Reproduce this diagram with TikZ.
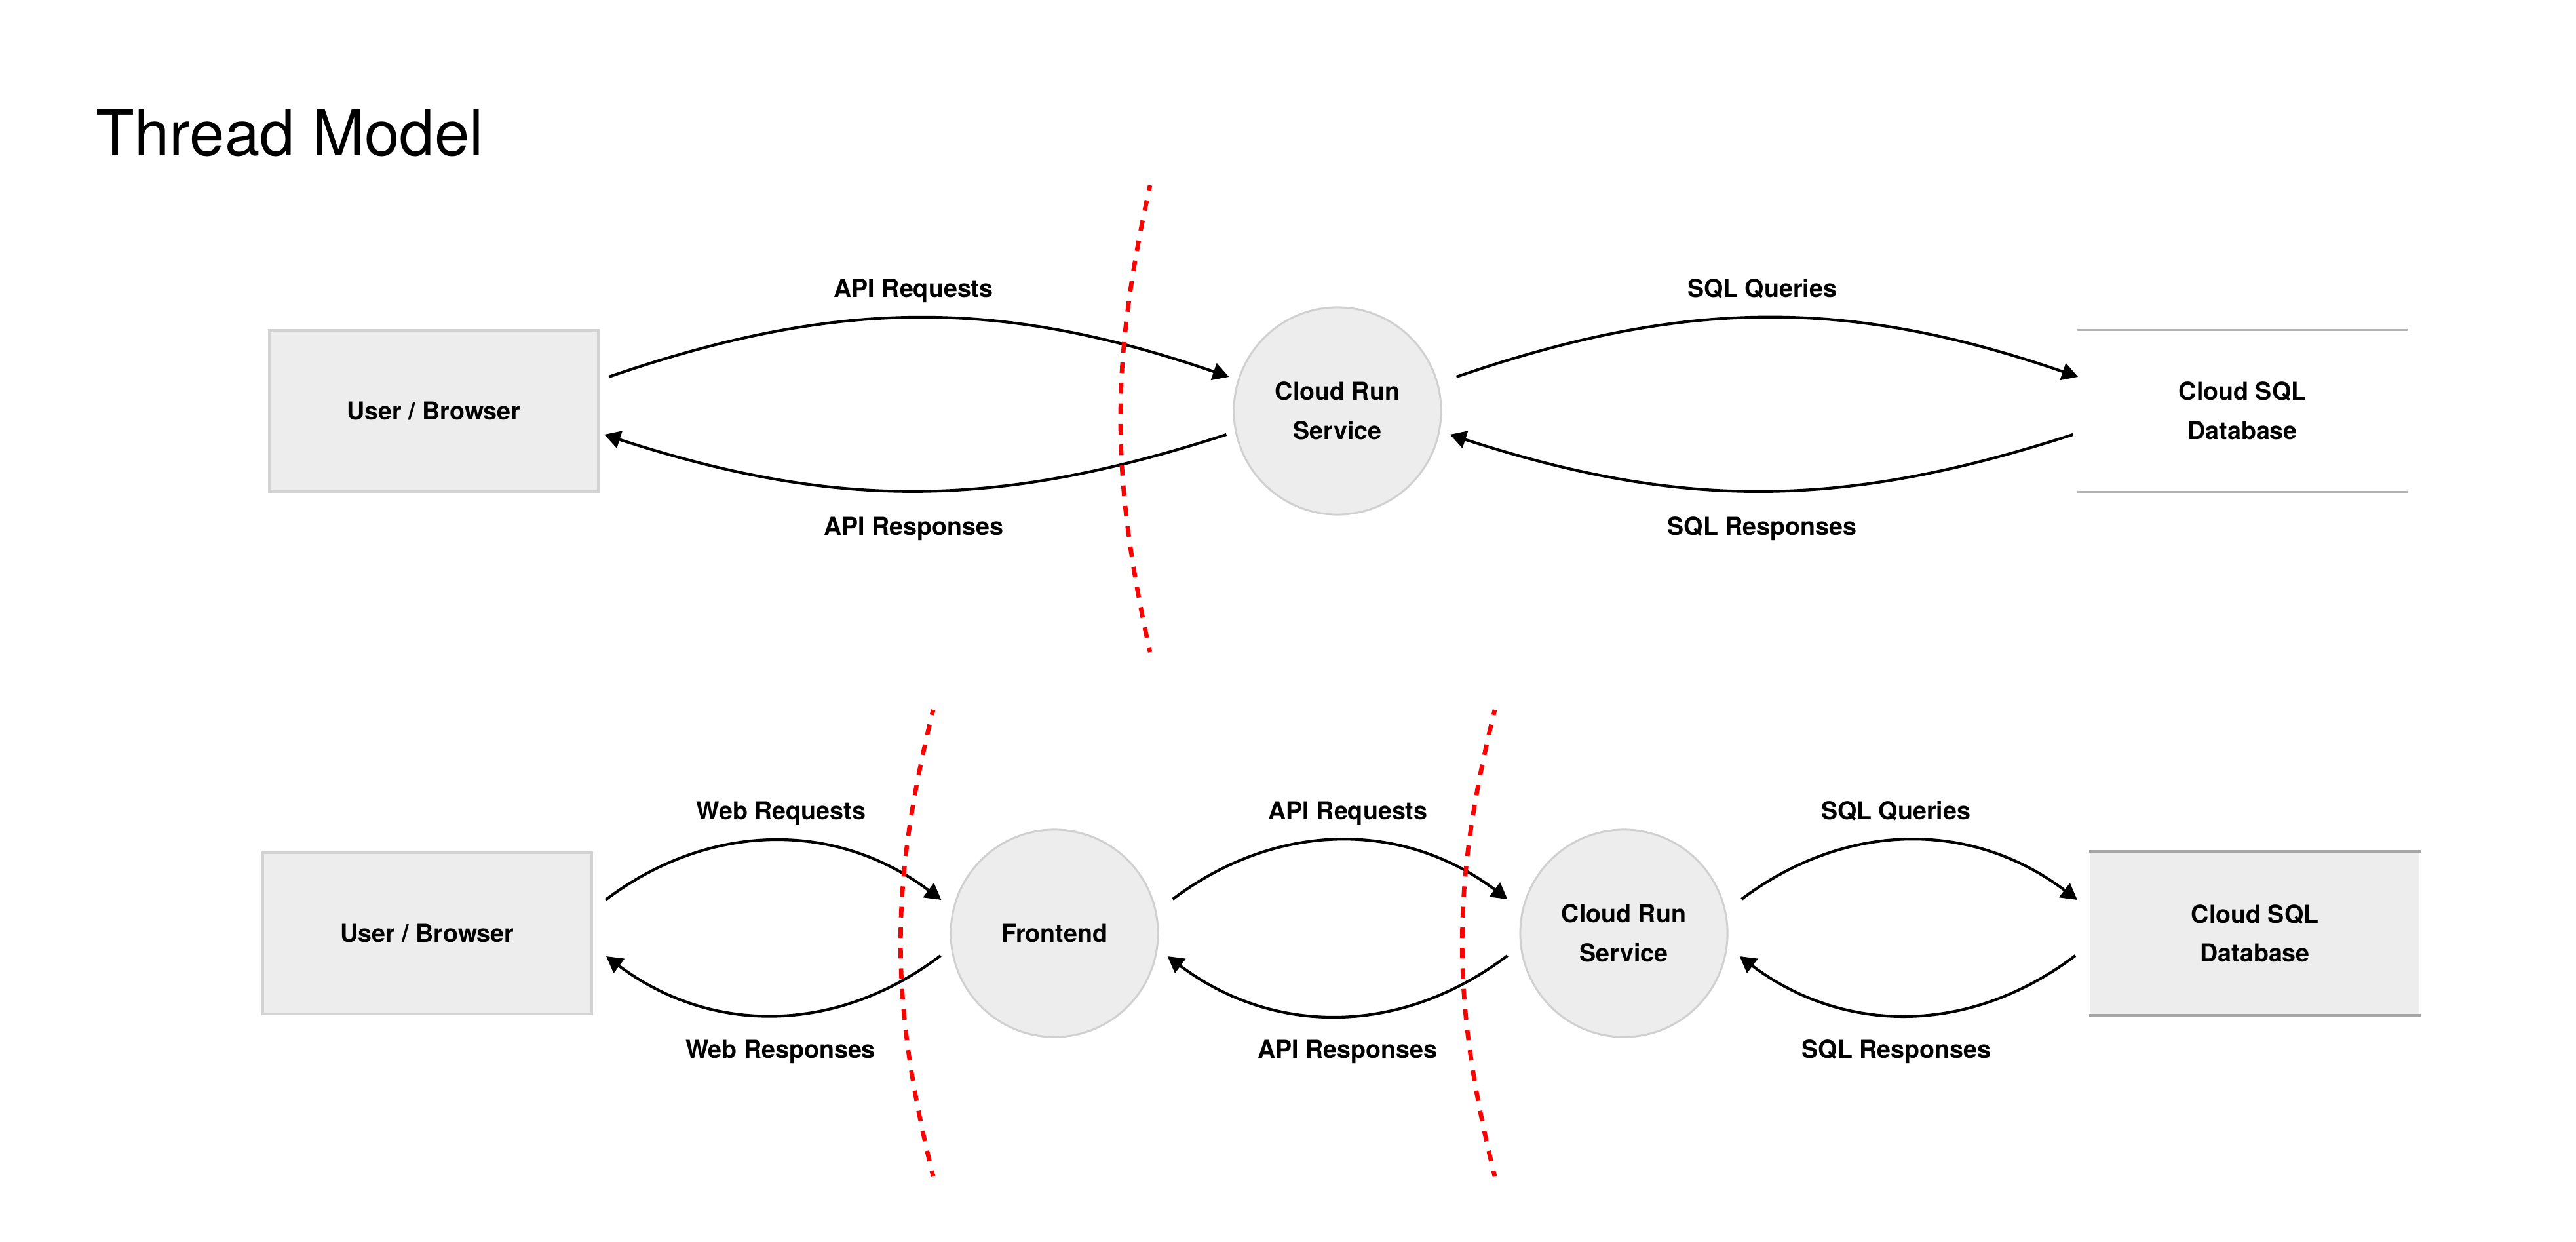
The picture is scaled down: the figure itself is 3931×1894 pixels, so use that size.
\documentclass[tikz,border=0pt]{standalone}
\usepackage{fontspec}
\setmainfont{TeX Gyre Heros}
\usetikzlibrary{arrows.meta}

\definecolor{boxfill}{HTML}{EDEDED}
\definecolor{boxline}{HTML}{D3D3D3}
\definecolor{circline}{HTML}{D0D0D0}
\definecolor{storeline}{HTML}{B3B3B3}
\definecolor{storeline2}{HTML}{A6A6A6}

\begin{document}
\begin{tikzpicture}[x=0.01cm, y=-0.01cm, font=\bfseries\fontsize{10.7}{17}\selectfont]
    \tikzstyle{node_title} = [anchor=base west, inner sep=0pt, font=\mdseries\fontsize{27.3}{33}\selectfont]
    \tikzstyle{node_box} = [draw=boxline, line width=1.1pt, fill=boxfill, minimum width=5.02cm, minimum height=2.46cm, inner sep=0pt, align=center, text depth=0pt]
    \tikzstyle{node_circle} = [draw=circline, line width=0.85pt, fill=boxfill, circle, minimum size=3.16cm, inner sep=0pt, align=center]
    \tikzstyle{node_store} = [draw=none, minimum width=5.02cm, minimum height=2.46cm, inner sep=0pt, align=center]
    \tikzstyle{node_label} = [anchor=base, inner sep=0pt]
    \tikzstyle{store_line} = [draw=storeline, line width=0.85pt]
    \tikzstyle{store_line2} = [draw=storeline2, line width=1.4pt]
    \tikzstyle{arrow_black} = [-{Triangle[length=7pt, width=7.6pt]}, black, line width=1.2pt]
    \tikzstyle{boundary_red} = [red, line width=1.9pt, dash pattern=on 4.6pt off 4.3pt, dash phase=2.3pt]

    \fill[white] (0,0) rectangle (3931,1894);
    \useasboundingbox (0,0) rectangle (3931,1894);

    \node[node_title] (title) at (146,237) {Thread Model};

    % one backend
    \node[node_box] (user1) at (662,627) {User / Browser};
    \node[node_circle] (run1) at (2041,627) {Cloud Run\\Service};
    \node[node_store] (db1) at (3422,627) {Cloud SQL\\Database};
    \draw[store_line] (db1.north west) -- (db1.north east);
    \draw[store_line] (db1.south west) -- (db1.south east);

    \draw[arrow_black] ([shift={(14,-52)}]user1.east) to[bend left=19] ([shift={(-6,-52)}]run1.west);
    \draw[arrow_black] ([shift={(-10,36)}]run1.west) to[bend left=18] ([shift={(7,36)}]user1.east);
    \draw[arrow_black] ([shift={(22,-52)}]run1.east) to[bend left=19] ([shift={(1,-52)}]db1.west);
    \draw[arrow_black] ([shift={(-7,36)}]db1.west) to[bend left=18] ([shift={(12,36)}]run1.east);

    \node[node_label] (req1) at (1394,453) {API Requests};
    \node[node_label] (resp1) at (1394,816) {API Responses};
    \node[node_label] (sqlq1) at (2689,453) {SQL Queries};
    \node[node_label] (sqlr1) at (2689,816) {SQL Responses};

    \coordinate (b1top) at (1755,283);
    \coordinate (b1bot) at (1755,995);
    \draw[boundary_red] (b1top) to[bend right=12.5] (b1bot);

    % with frontend
    \node[node_box] (user2) at (652,1424) {User / Browser};
    \node[node_circle] (front2) at (1609,1424) {Frontend};
    \node[node_circle] (run2) at (2478,1424) {Cloud Run\\Service};
    \node[node_box, draw=none] (db2) at (3441,1424) {Cloud SQL\\Database};
    \draw[store_line2] (db2.north west) -- (db2.north east);
    \draw[store_line2] (db2.south west) -- (db2.south east);

    \draw[arrow_black] ([shift={(19,-51)}]user2.east) to[bend left=37] ([shift={(-13,-51)}]front2.west);
    \draw[arrow_black] ([shift={(-14,34)}]front2.west) to[bend left=37] ([shift={(20,35)}]user2.east);
    \draw[arrow_black] ([shift={(21,-52)}]front2.east) to[bend left=37] ([shift={(-18,-52)}]run2.west);
    \draw[arrow_black] ([shift={(-18,34)}]run2.west) to[bend left=37] ([shift={(13,35)}]front2.east);
    \draw[arrow_black] ([shift={(20,-52)}]run2.east) to[bend left=37] ([shift={(-18,-51)}]db2.west);
    \draw[arrow_black] ([shift={(-21,34)}]db2.west) to[bend left=37] ([shift={(17,35)}]run2.east);

    \node[node_label] (web2) at (1192,1250) {Web Requests};
    \node[node_label] (webr2) at (1191,1614) {Web Responses};
    \node[node_label] (req2) at (2057,1250) {API Requests};
    \node[node_label] (resp2) at (2056,1614) {API Responses};
    \node[node_label] (sqlq2) at (2893,1250) {SQL Queries};
    \node[node_label] (sqlr2) at (2894,1614) {SQL Responses};

    \coordinate (b2top) at (1424,1083);
    \coordinate (b2bot) at (1424,1795);
    \draw[boundary_red] (b2top) to[bend right=13.8] (b2bot);
    \coordinate (b3top) at (2281,1083);
    \coordinate (b3bot) at (2281,1795);
    \draw[boundary_red] (b3top) to[bend right=13.8] (b3bot);

\end{tikzpicture}
\end{document}
